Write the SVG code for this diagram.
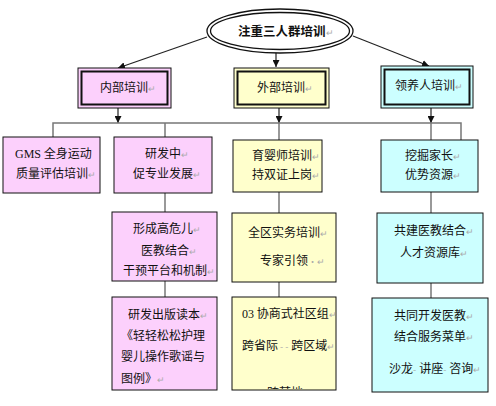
<svg xmlns="http://www.w3.org/2000/svg" width="496" height="406" viewBox="0 0 496 406">
<style>
text{font-family:"Noto Sans CJK SC","Liberation Sans",sans-serif;font-size:12px;fill:#111}
.pm{fill:#aaa;font-size:9px}
.lat{font-family:"Liberation Serif","Noto Sans CJK SC",serif}
.box{stroke:#111;stroke-width:1}
.pink{fill:#fcd0fc}
.yel{fill:#ffffcc}
.cyan{fill:#ccffff}
.c{fill:none;stroke:#222;stroke-width:1.2}
.g{fill:none;stroke:#777;stroke-width:1.5}
</style>
<defs>
<marker id="ah" viewBox="0 0 10 10" refX="10" refY="5" markerWidth="7" markerHeight="7" markerUnits="userSpaceOnUse" orient="auto"><path d="M0,0 L10,5 L0,10 z" fill="#111"/></marker>
<clipPath id="clipY" clipPathUnits="userSpaceOnUse"><rect x="232" y="297" width="104" height="92"/></clipPath>
</defs>
<rect width="496" height="406" fill="#fff"/>

<g id="connectors">
<line class="c" x1="207" y1="37" x2="118" y2="68" marker-end="url(#ah)"/>
<line class="c" x1="276" y1="52" x2="276" y2="67" marker-end="url(#ah)"/>
<line class="c" x1="353" y1="36" x2="429" y2="66" marker-end="url(#ah)"/>
<line class="c" x1="118" y1="108" x2="118" y2="123" marker-end="url(#ah)"/>
<line class="c" x1="279" y1="108" x2="279" y2="123" marker-end="url(#ah)"/>
<line class="c" x1="431" y1="108" x2="431" y2="123" marker-end="url(#ah)"/>
<path class="g" d="M53,137 V123 H461 V140"/>
<line class="g" x1="165" y1="123" x2="165" y2="137"/>
<line class="g" x1="279" y1="123" x2="279" y2="140"/>
<line class="g" x1="431" y1="123" x2="431" y2="140"/>
<line class="g" x1="165" y1="193" x2="165" y2="212"/>
<line class="g" x1="279" y1="192" x2="279" y2="213"/>
<line class="g" x1="431" y1="192" x2="431" y2="213"/>
<line class="g" x1="165" y1="281" x2="165" y2="297"/>
<line class="g" x1="279" y1="282" x2="279" y2="297"/>
<line class="g" x1="431" y1="283" x2="431" y2="298"/>
</g>

<g id="root">
<ellipse cx="280" cy="31" rx="73" ry="22" fill="#fff" stroke="#111" stroke-width="1.3"/>
<ellipse cx="280" cy="31" rx="69.5" ry="18.5" fill="none" stroke="#111" stroke-width="1.3"/>
<text x="238" y="36" style="font-weight:bold;font-size:12.5px">注重三人群培训<tspan class="pm" style="font-weight:normal">↵</tspan></text>
</g>

<g id="n-inner">
<rect x="78" y="68" width="93" height="40" class="pink" stroke="#111" stroke-width="1"/>
<rect x="81.5" y="71.5" width="86" height="33" fill="none" stroke="#111" stroke-width="2"/>
<text x="100" y="91.5">内部培训<tspan class="pm">↵</tspan></text>
</g>
<g id="n-outer">
<rect x="234" y="68" width="95" height="40" class="yel" stroke="#111" stroke-width="1"/>
<rect x="237.5" y="71.5" width="88" height="33" fill="none" stroke="#111" stroke-width="2"/>
<text x="257" y="91.5">外部培训<tspan class="pm">↵</tspan></text>
</g>
<g id="n-adopt">
<rect x="381" y="66" width="92" height="42" class="cyan" stroke="#111" stroke-width="1"/>
<rect x="384.5" y="69.5" width="85" height="35" fill="none" stroke="#111" stroke-width="2"/>
<text x="395" y="89.5">领养人培训<tspan class="pm">↵</tspan></text>
</g>

<g id="n-gms">
<rect x="3" y="137" width="97" height="56" class="box pink"/>
<text x="15" y="157.5"><tspan class="lat">GMS</tspan> 全身运动</text>
<text x="16" y="177.5">质量评估培训<tspan class="pm">↵</tspan></text>
</g>
<g id="n-rd">
<rect x="114" y="137" width="98" height="56" class="box pink"/>
<text x="145" y="157.5">研发中<tspan class="pm">↵</tspan></text>
<text x="133" y="177.5">促专业发展<tspan class="pm">↵</tspan></text>
</g>
<g id="n-nanny">
<rect x="233" y="140" width="89" height="52" class="box yel"/>
<text x="252" y="159.5">育婴师培训<tspan class="pm">↵</tspan></text>
<text x="252" y="178.5">持双证上岗<tspan class="pm">↵</tspan></text>
</g>
<g id="n-parent">
<rect x="381" y="140" width="97" height="52" class="box cyan"/>
<text x="405" y="159.5">挖掘家长<tspan class="pm">↵</tspan></text>
<text x="405" y="178.5">优势资源<tspan class="pm">↵</tspan></text>
</g>

<g id="n-platform">
<rect x="112" y="212" width="105" height="69" class="box pink"/>
<text x="133" y="232.5">形成高危儿<tspan class="pm">↵</tspan></text>
<text x="141" y="254.5">医教结合<tspan class="pm">↵</tspan></text>
<text x="123" y="274.5">干预平台和机制<tspan class="pm">↵</tspan></text>
</g>
<g id="n-practice">
<rect x="232" y="213" width="104" height="69" class="box yel"/>
<text x="248" y="236.5">全区实务培训<tspan class="pm">↵</tspan></text>
<text x="260" y="264.5">专家引领<tspan class="pm">·↵</tspan></text>
</g>
<g id="n-pool">
<rect x="377" y="213" width="106" height="70" class="box cyan"/>
<text x="394" y="234.5">共建医教结合<tspan class="pm">↵</tspan></text>
<text x="400" y="256.5">人才资源库<tspan class="pm">↵</tspan></text>
</g>

<g id="n-book">
<rect x="112" y="297" width="105" height="93" class="box pink"/>
<text x="128" y="318.5">研发出版读本<tspan class="pm">↵</tspan></text>
<text x="121" y="339.5">《轻轻松松护理</text>
<text x="121" y="360.5">婴儿操作歌谣与</text>
<text x="121" y="382.5">图例》<tspan class="pm">↵</tspan></text>
</g>
<g id="n-community">
<rect x="232" y="297" width="104" height="93" class="box yel"/>
<text x="242" y="317.5"><tspan class="lat">03</tspan> 协商式社区组<tspan class="pm">↵</tspan></text>
<text x="242" y="349.5">跨省际<tspan class="pm" dx="2">- -</tspan><tspan dx="3">跨区域</tspan><tspan class="pm">↵</tspan></text>
<g clip-path="url(#clipY)"><text x="267" y="397">跨某地<tspan class="pm">.</tspan></text></g>
</g>
<g id="n-menu">
<rect x="372" y="298" width="116" height="94" class="box cyan"/>
<text x="394" y="319.5">共同开发医教<tspan class="pm">↵</tspan></text>
<text x="394" y="340.5">结合服务菜单<tspan class="pm">↵</tspan></text>
<text x="389" y="372.5">沙龙<tspan class="pm">-</tspan><tspan dx="3">讲座</tspan><tspan class="pm">-</tspan><tspan dx="3">咨询</tspan><tspan class="pm">↵</tspan></text>
</g>
</svg>
